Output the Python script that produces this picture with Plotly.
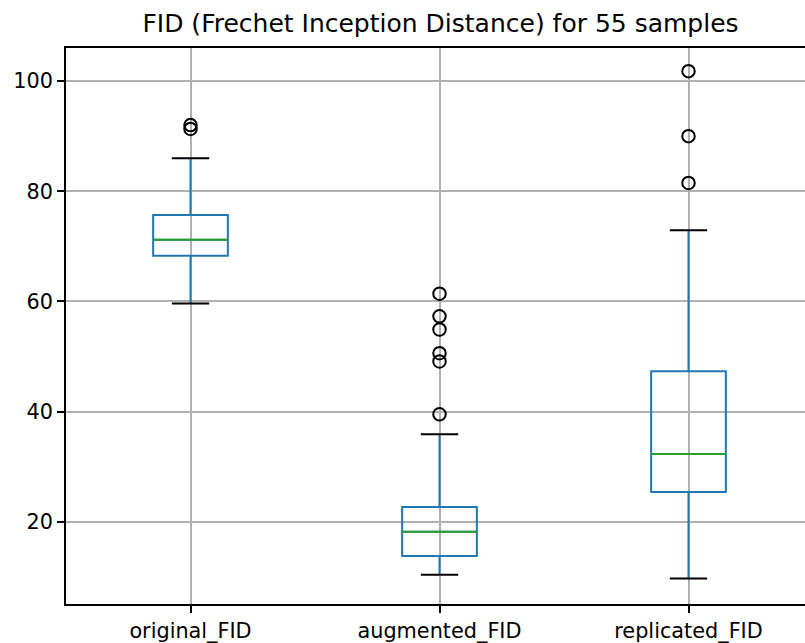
import plotly.graph_objects as go

# Summary statistics of the FID scores per method
categories = ["original_FID", "augmented_FID", "replicated_FID"]
q1 = [68.3, 13.8, 25.4]
median = [71.2, 18.2, 32.3]
q3 = [75.7, 22.7, 47.3]
lower_whisker = [59.6, 10.4, 9.7]
upper_whisker = [86.0, 35.9, 72.9]
outliers = [
    [92.0, 91.3],
    [61.4, 57.3, 54.9, 50.6, 49.1, 39.5],
    [101.8, 90.0, 81.5],
]
y_ticks = [20, 40, 60, 80, 100]

BOX_W = 0.3
CAP_W = BOX_W / 2
BLUE = "#1f77b4"
GREEN = "#2ca02c"
FONT = "DejaVu Sans"

positions = [i + 1 for i in range(len(categories))]

fig = go.Figure()

for i, pos in enumerate(positions):
    # box + whiskers
    fig.add_trace(go.Box(
        x=[pos], q1=[q1[i]], median=[median[i]], q3=[q3[i]],
        lowerfence=[lower_whisker[i]], upperfence=[upper_whisker[i]],
        width=BOX_W, whiskerwidth=0, boxpoints=False,
        line=dict(color=BLUE, width=2), fillcolor="rgba(0,0,0,0)",
        hoverinfo="skip", showlegend=False,
    ))
    # median line
    fig.add_trace(go.Scatter(
        x=[pos - BOX_W / 2, pos + BOX_W / 2], y=[median[i], median[i]],
        mode="lines", line=dict(color=GREEN, width=2),
        hoverinfo="skip", showlegend=False,
    ))
    # whisker caps
    for v in (lower_whisker[i], upper_whisker[i]):
        fig.add_trace(go.Scatter(
            x=[pos - CAP_W / 2, pos + CAP_W / 2], y=[v, v],
            mode="lines", line=dict(color="black", width=2),
            hoverinfo="skip", showlegend=False,
        ))
    # fliers
    fig.add_trace(go.Scatter(
        x=[pos] * len(outliers[i]), y=outliers[i], mode="markers",
        marker=dict(symbol="circle-open", size=12.5, color="black",
                    line=dict(width=2, color="black")),
        hoverinfo="skip", showlegend=False,
    ))

fig.update_layout(
    width=805, height=643,
    margin=dict(l=66, r=0, t=48, b=37),
    paper_bgcolor="white", plot_bgcolor="white",
    font=dict(family=FONT, size=20.8, color="black"),
    title=dict(text="FID (Frechet Inception Distance) for 55 samples",
               x=440.5 / 805, xanchor="center", xref="container",
               y=1 - 23 / 643, yanchor="middle", yref="container",
               font=dict(size=25, family=FONT, color="black")),
    showlegend=False,
)

fig.update_xaxes(
    range=[0.5, 0.5 + 739 / 249],
    tickmode="array", tickvals=positions, ticktext=categories,
    showgrid=True, gridcolor="#b0b0b0", gridwidth=1.6,
    showline=True, linecolor="black", linewidth=1.6, mirror=True,
    ticks="outside", ticklen=7, tickwidth=1.6, tickcolor="black",
    zeroline=False,
)
fig.update_yaxes(
    range=[5.07, 106.0],
    tickmode="array", tickvals=y_ticks,
    showgrid=True, gridcolor="#b0b0b0", gridwidth=1.6,
    showline=True, linecolor="black", linewidth=1.6, mirror=False,
    ticks="outside", ticklen=7, tickwidth=1.6, tickcolor="black",
    zeroline=False,
)

fig.write_html("out.html")
